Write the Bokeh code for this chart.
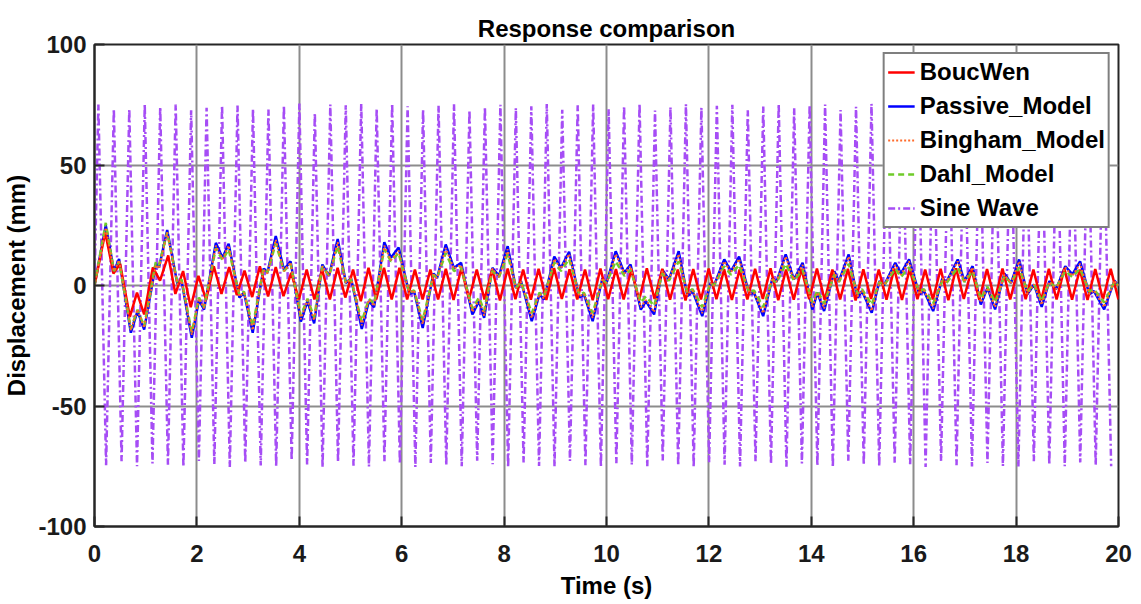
from bokeh.plotting import figure
from bokeh.models import Range1d, FixedTicker, Legend, LegendItem
from bokeh.embed import file_html
from bokeh.resources import INLINE

# ---------------- data ----------------
x_ticks = [0, 2, 4, 6, 8, 10, 12, 14, 16, 18, 20]
y_ticks = [-100, -50, 0, 50, 100]
y_tick_labels = ["-100", "-50", "0", "50", "100"]

# Passive model (blue): extrema times (s) and displacements (mm)
passive_t = [0.00, 0.22, 0.38, 0.48, 0.71, 0.84, 0.97, 1.20, 1.26, 1.42, 1.62, 1.70, 1.90, 2.04, 2.14, 2.37, 2.50, 2.62, 2.83, 2.92, 3.09, 3.30, 3.38,
             3.54, 3.70, 3.83, 4.03, 4.16, 4.29, 4.45, 4.58, 4.75, 4.91, 5.01, 5.22, 5.36, 5.46, 5.66, 5.79, 5.94, 6.15, 6.24, 6.41, 6.62, 6.69,
             6.86, 7.02, 7.16, 7.38, 7.51, 7.61, 7.77, 7.90, 8.07, 8.23, 8.33, 8.54, 8.69, 8.78, 8.98, 9.11, 9.27, 9.47, 9.56, 9.73, 9.92, 10.00,
             10.18, 10.35, 10.47, 10.67, 10.77, 10.93, 11.09, 11.22, 11.41, 11.58, 11.68, 11.87, 12.03, 12.10, 12.30, 12.43, 12.59, 12.79, 12.88, 13.06, 13.24, 13.32,
             13.50, 13.66, 13.83, 14.02, 14.12, 14.25, 14.45, 14.54, 14.73, 14.90, 14.99, 15.18, 15.33, 15.42, 15.64, 15.75, 15.91, 16.11, 16.20, 16.38, 16.56, 16.64,
             16.86, 16.99, 17.15, 17.31, 17.44, 17.59, 17.77, 17.90, 18.06, 18.22, 18.35, 18.50, 18.65, 18.78, 18.96, 19.10, 19.25, 19.43, 19.52, 19.72, 19.92, 20.00]
passive_v = [0, 25, 6, 11, -19.6, -10.6, -18.3, 9, 7.5, 23, 0.5, 2, -21.7, -6, -10, 17.7, 11.5, 17.3, -5, -3, -19.6, 7, 5.5,
             20.5, 6.6, 10, -15, -6.5, -15.7, 8.7, 4, 19.3, 1, 3, -18, -6.5, -9, 18, 11.5, 15.8, -3.7, -2.3, -17.6, 5, 3,
             17, 7.3, 9.4, -12, -6.5, -13.4, 7.3, 4, 16.3, -1, 1.8, -14.8, -3.7, -5.8, 12, 7.3, 14, -5, -3.7, -14.8, 3, 1,
             14.2, 5.2, 8.7, -10, -6.5, -12, 6.6, 2.5, 14.2, -4.4, -2.3, -12.7, 1, 0, 10.8, 5.9, 12, -3.7, -3, -12.7, 3, 1.5,
             12.9, 2.5, 9.4, -10, -3, -10.6, 5.9, 1.8, 12.9, -5.1, -2.3, -11.3, 1.8, 0, 9.4, 5, 10.8, -3.7, -2.3, -10.6, 3, 1.5,
             10.8, 1.8, 8, -7.9, -1, -9.9, 5, 1, 10.8, -3.7, 0.4, -8.9, 1.8, -1.6, 8, 4.6, 10, -3.7, -2.3, -9.9, 2, 0]

# Bingham model (orange dotted), same extrema times as the passive curve
bingham_v = [0, 24, 6, 10.5, -18.5, -10, -17.5, 8.5, 7, 22, 0.5, 2, -20.5, -5.5, -9.5, 16.5, 11, 16.5, -4.5, -3, -18.5, 6.5, 5,
             19, 6, 9.5, -14, -6, -14.5, 8, 4, 18, 1, 3, -16.5, -6, -8.5, 16.5, 10.5, 14.5, -3.5, -2, -16, 4.5, 3,
             15.5, 7, 8.5, -11, -6, -12.5, 7, 3.5, 15, -1, 1.5, -13.5, -3.5, -5.5, 11, 7, 13, -4.5, -3.5, -13.5, 3, 1,
             13, 5, 8, -9, -6, -11, 6, 2.5, 13, -4, -2, -11.5, 1, 0, 10, 5.5, 11, -3.5, -3, -11.5, 3, 1.5,
             12, 2.5, 8.5, -9, -3, -9.5, 5.5, 1.5, 12, -4.5, -2, -10.5, 1.5, 0, 8.5, 4.5, 10, -3.5, -2, -9.5, 3, 1.5,
             10, 1.5, 7.5, -7, -1, -9, 4.5, 1, 10, -3.5, 0.5, -8, 1.5, -1.5, 7.5, 4, 9, -3.5, -2, -9, 2, 0]

# Dahl model (green dashed), same extrema times as the passive curve
dahl_v = [0, 26, 6, 10, -18, -10, -17, 10, 8.5, 22, 1, 2.5, -19.5, -5, -9, 15.5, 10.5, 15, -4, -2.5, -17, 7, 5.5,
          17.5, 6, 9, -12.7, -5.5, -13.3, 8, 4, 16.5, 1, 2.5, -15, -5.5, -7.5, 15, 10, 13.5, -3, -2, -14.5, 4.5, 3,
          13.5, 6, 7.5, -9.5, -5, -10.5, 6, 3.5, 13, -1, 1.5, -11.5, -3, -4.5, 9.5, 6, 11, -4, -3, -11.5, 2.5, 1,
          10, 4, 6.5, -7, -4.5, -8.5, 5, 2, 10, -3, -1.5, -9, 1, 0, 8, 4.5, 8.5, -3, -2, -9, 2.5, 1,
          9, 2, 6.5, -7, -2, -7.5, 4.5, 1.5, 9, -3.5, -1.5, -8, 1.5, 0, 7, 3.5, 7.5, -2.5, -1.5, -7.5, 2, 1,
          7.5, 1.5, 6, -5.5, -0.5, -7, 4, 1, 7.5, -2.5, 0.5, -6.5, 1.5, -1, 6, 3.5, 7, -2.5, -1.5, -7, 1.5, 0]

# BoucWen (red): transient extrema, then steady oscillation peaks / troughs
boucwen_t_early = [0.00, 0.21, 0.37, 0.50, 0.69, 0.83, 0.97, 1.14, 1.28, 1.44, 1.58, 1.73, 1.88, 2.03, 2.18, 2.33, 2.48, 2.63, 2.78, 2.93, 3.08, 3.23, 3.39]
boucwen_v_early = [0, 22, 5, 9, -13, -3, -12, 7.5, 2, 12.5, -3.5, 6, -9, 4, -6, 8, -3.5, 7.6, -4, 6.2, -4.8, 8, -4.5]
boucwen_steady_start = 3.54
boucwen_half_period = 0.151
boucwen_peaks = [7.6, 5.2, 6.6, 6.6, 7.3, 6.6, 7.3, 7.3, 7.3, 6.6,
                 6.6, 6.9, 7.1, 6.6, 6.8, 7.0, 6.6, 6.9, 7.2, 6.7,
                 6.6, 7.0, 6.8, 6.6, 7.1, 6.9, 6.6, 6.8, 7.0, 6.7,
                 6.6, 6.9, 7.1, 6.6, 6.8, 7.0, 6.6, 6.9, 6.7, 6.6,
                 7.0, 6.8, 6.6, 6.9, 7.1, 6.6, 6.8, 7.0, 6.7, 6.6,
                 6.9, 7.0, 6.6, 6.8, 6.9]
boucwen_troughs = [-4.4, -5.8, -5.8, -5.8, -5.0, -6.5, -5.8, -5.8, -5.8, -5.8,
                   -5.8, -6.0, -5.6, -5.8, -6.2, -5.7, -5.9, -6.0, -5.6, -5.8,
                   -6.1, -5.7, -5.8, -6.0, -5.6, -5.9, -6.2, -5.8, -5.7, -6.0,
                   -5.8, -5.6, -6.1, -5.9, -5.7, -6.0, -5.8, -6.2, -5.6, -5.9,
                   -6.0, -5.7, -5.8, -6.1, -5.6, -5.9, -6.0, -5.8, -5.7, -6.1,
                   -5.8, -5.9, -6.0, -5.7, -5.8]

# Sine wave (purple dash-dot): peaks and troughs
sine_first_peak = 0.0755
sine_half_period = 0.151
sine_peaks = [75.1, 73.3, 73.3, 75.1, 74.0, 75.1, 72.7, 73.7, 74.7, 74.7,
              73.3, 73.0, 74.7, 75.5, 71.6, 75.1, 74.8, 75.4, 73.4, 75.4,
              74.4, 73.0, 74.6, 75.2, 72.8, 74.1, 75.0, 73.6, 74.4, 75.3,
              72.9, 74.8, 75.1, 73.2, 74.5, 75.4, 72.6, 74.0, 75.2, 73.8,
              74.6, 75.0, 72.7, 74.3, 75.3, 73.5, 74.9, 75.1, 72.8, 74.2,
              75.4, 73.7, 74.6, 75.0, 72.9, 74.4, 75.2, 73.3, 74.8, 75.3,
              72.6, 74.1, 75.0, 73.6, 74.7, 75.2]
sine_troughs = [-74.6, -72.9, -75.0, -73.8, -74.4, -75.2, -72.8, -74.1, -75.3, -73.5,
                -74.7, -75.0, -72.6, -74.3, -75.4, -73.2, -74.8, -75.1, -72.9, -74.0,
                -75.3, -73.6, -74.5, -75.0, -72.7, -74.2, -75.4, -73.4, -74.9, -75.1,
                -72.8, -74.6, -75.2, -73.7, -74.3, -75.0, -72.6, -74.8, -75.3, -73.3,
                -74.4, -75.1, -72.9, -74.0, -75.2, -73.8, -74.7, -75.4, -72.7, -74.5,
                -75.0, -73.5, -74.2, -75.3, -72.8, -74.6, -75.1, -73.6, -74.9, -75.2,
                -72.9, -74.3, -75.0, -73.4, -74.5, -75.0]

# ---------------- assemble series ----------------
def interleave(a, b):
    out = []
    for u, w in zip(a, b):
        out += [u, w]
    return out

boucwen_steady = interleave(boucwen_peaks, boucwen_troughs)
boucwen_t = boucwen_t_early + [boucwen_steady_start + boucwen_half_period * k for k in range(len(boucwen_steady))]
boucwen_v = boucwen_v_early + boucwen_steady

sine_ext = interleave(sine_peaks, sine_troughs)
sine_t = [0.0] + [sine_first_peak + sine_half_period * k for k in range(len(sine_ext))]
sine_v = [0.0] + sine_ext

# ---------------- figure ----------------
FONT = "Liberation Sans"
INK = "#1a1a1a"
p = figure(frame_width=1024, frame_height=482,
           min_border_left=86, min_border_right=15, min_border_top=44, min_border_bottom=62,
           x_range=Range1d(0, 20), y_range=Range1d(-100, 100),
           output_backend="svg", toolbar_location=None,
           background_fill_color="white", border_fill_color="white")

p.title.text = "Response comparison"
p.title.align = "center"
p.title.text_font = FONT
p.title.text_font_size = "24px"
p.title.text_font_style = "bold"
p.title.text_color = "black"
p.title.standoff = 6

p.outline_line_color = "#262626"
p.outline_line_width = 2

xax = p.below[0]
yax = p.left[0]
for ax in (xax, yax):
    ax.axis_line_color = "#262626"
    ax.axis_line_width = 2
    ax.major_tick_in = 10
    ax.major_tick_out = 0
    ax.minor_tick_line_color = None
    ax.major_tick_line_color = "#262626"
    ax.major_tick_line_width = 2
    ax.major_label_text_font = FONT
    ax.major_label_text_font_size = "24px"
    ax.major_label_text_font_style = "bold"
    ax.major_label_text_color = INK
    ax.axis_label_text_font = FONT
    ax.axis_label_text_font_size = "24px"
    ax.axis_label_text_font_style = "bold"
    ax.axis_label_text_color = "black"

xax.ticker = FixedTicker(ticks=x_ticks)
yax.ticker = FixedTicker(ticks=y_ticks)
yax.major_label_overrides = {t: s for t, s in zip(y_ticks, y_tick_labels)}
xax.axis_label = "Time (s)"
yax.axis_label = "Displacement (mm)"
xax.major_label_standoff = 18
xax.axis_label_standoff = 7
yax.major_label_standoff = 8
yax.axis_label_standoff = 5

p.xgrid.ticker = FixedTicker(ticks=x_ticks)
p.ygrid.ticker = FixedTicker(ticks=y_ticks)
p.grid.grid_line_color = "#8c8c8c"
p.grid.grid_line_width = 2
p.grid.grid_line_alpha = 1.0

r_sine = p.line(sine_t, sine_v, line_color="#A64DF5", line_width=2.5, line_dash="7 3 2 3")
r_pass = p.line(passive_t, passive_v, line_color="#0000FF", line_width=2.5)
r_bw = p.line(boucwen_t, boucwen_v, line_color="#FF0000", line_width=2.5)
r_dahl = p.line(passive_t, dahl_v, line_color="#6FCB2A", line_width=2.5, line_dash="6 4")
r_bing = p.line(passive_t, bingham_v, line_color="#FF6A2A", line_width=2, line_dash="2 2")

legend = Legend(items=[
    LegendItem(label="BoucWen", renderers=[r_bw]),
    LegendItem(label="Passive_Model", renderers=[r_pass]),
    LegendItem(label="Bingham_Model", renderers=[r_bing]),
    LegendItem(label="Dahl_Model", renderers=[r_dahl]),
    LegendItem(label="Sine Wave", renderers=[r_sine]),
], location="top_right")
legend.border_line_color = "black"
legend.border_line_width = 2
legend.background_fill_color = "white"
legend.background_fill_alpha = 1.0
legend.label_text_font = FONT
legend.label_text_font_size = "24px"
legend.label_text_font_style = "bold"
legend.label_text_color = "black"
legend.glyph_width = 27
legend.glyph_height = 30
legend.label_height = 30
legend.label_standoff = 5
legend.spacing = 4
legend.padding = 3
legend.margin = 8
p.add_layout(legend)

open("out.html", "w").write(file_html(p, INLINE))
